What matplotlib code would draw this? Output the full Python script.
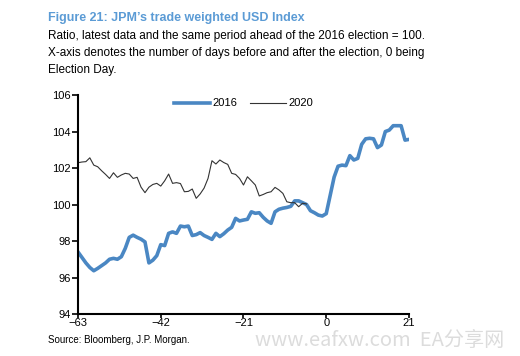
import matplotlib
matplotlib.use("Agg")
import matplotlib.pyplot as plt

plt.rcParams['font.family'] = ['Liberation Sans', 'DejaVu Sans']

days_2016 = list(range(-63, 22))
vals_2016 = [97.4, 97.1, 96.8, 96.55, 96.37, 96.5, 96.65, 96.8, 97.0, 97.05,
             97.0, 97.14, 97.6, 98.2, 98.32, 98.2, 98.1, 97.95, 96.8, 96.95,
             97.2, 97.8, 97.75, 98.42, 98.5, 98.42, 98.82, 98.78, 98.82, 98.3,
             98.35, 98.46, 98.3, 98.2, 98.09, 98.42, 98.24, 98.4, 98.6, 98.75,
             99.24, 99.1, 99.15, 99.19, 99.6, 99.52, 99.55, 99.3, 99.1, 98.97,
             99.6, 99.74, 99.8, 99.84, 99.9, 100.2, 100.2, 100.1, 100.0, 99.66,
             99.55, 99.42, 99.37, 99.5, 100.5, 101.5, 102.1, 102.16, 102.13, 102.68,
             102.44, 102.53, 103.3, 103.6, 103.63, 103.6, 103.12, 103.26, 104.0, 104.08,
             104.32, 104.32, 104.32, 103.53, 103.57]

days_2020 = list(range(-63, -4))
vals_2020 = [102.29, 102.33, 102.35, 102.56, 102.16, 102.07, 101.85, 101.65, 101.43, 101.74,
             101.49, 101.62, 101.71, 101.67, 101.43, 101.49, 100.95, 100.65, 100.95, 101.1,
             101.16, 101.01, 101.3, 101.67, 101.16, 101.2, 101.15, 100.7, 100.72, 100.85,
             100.34, 100.58, 100.9, 101.43, 102.4, 102.22, 102.44, 102.3, 102.2, 101.71,
             101.65, 101.43, 101.07, 101.52, 101.3, 101.07, 100.47, 100.55, 100.65, 100.7,
             100.94, 100.8, 100.61, 100.15, 100.1, 100.1, 99.88, 100.07, 100.03]

x_ticks = [-63, -42, -21, 0, 21]
y_ticks = [94, 96, 98, 100, 102, 104, 106]

fig = plt.figure(figsize=(5.2, 3.56), dpi=100)
ax = fig.add_axes([0.15, 0.118, 0.6365, 0.615])

ax.plot(days_2016, vals_2016, color='#4a87c3', lw=2.6, label='2016', solid_joinstyle='round')
ax.plot(days_2020, vals_2020, color='#333333', lw=0.8, label='2020')

ax.set_xlim(-63, 21)
ax.set_ylim(94, 106)
ax.set_xticks(x_ticks)
ax.set_yticks(y_ticks)
for s in ['top', 'right']:
    ax.spines[s].set_visible(False)
for s in ['left', 'bottom']:
    ax.spines[s].set_linewidth(1.5)
ax.tick_params(axis='both', labelsize=8, colors='black', width=1.2, pad=1)
ax.tick_params(axis='y', length=4, direction='out')
ax.tick_params(axis='x', length=3, direction='out', pad=0)

ax.legend(loc='upper center', bbox_to_anchor=(0.5, 1.03), ncol=2, frameon=False,
          fontsize=8, handlelength=3.2, columnspacing=1.2, handletextpad=0.2)

fig.text(48/520, 1-18/356, "Figure 21: JPM\u2019s trade weighted USD Index", color='#5b9bd5',
         fontsize=9, fontweight='bold', va='center', ha='left')
sub = ["Ratio, latest data and the same period ahead of the 2016 election = 100.",
       "X-axis denotes the number of days before and after the election, 0 being",
       "Election Day."]
for i, t in enumerate(sub):
    fig.text(48/520, 1-(36+17*i)/356, t, fontsize=8.5, va='center', ha='left', color='black')

fig.text(48/520, 1-340/356, "Source: Bloomberg, J.P. Morgan.", fontsize=7, va='center', ha='left')
fig.text(255/520, 1-340/356, "www.eafxw.com  EA分享网", fontsize=14.5, va='center', ha='left',
         color='#dcdcdc', family=['Noto Sans CJK SC', 'DejaVu Sans'])

fig.savefig('out.png', dpi=100)
